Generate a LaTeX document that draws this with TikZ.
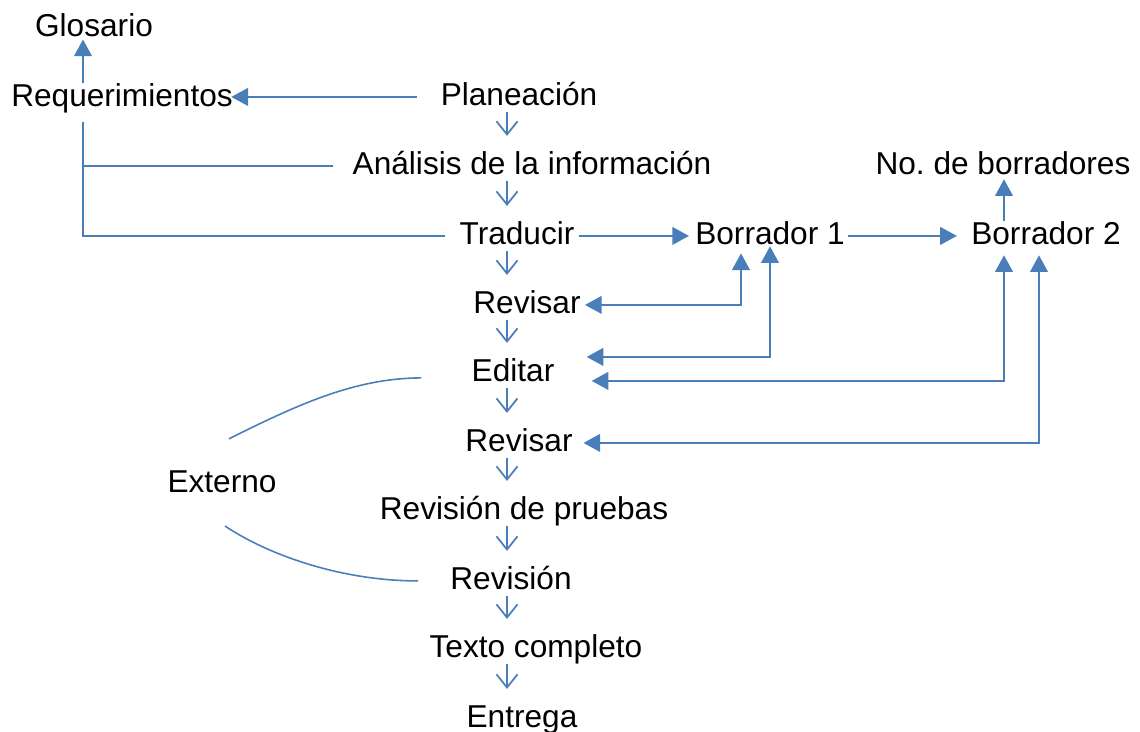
\documentclass[tikz,border=0pt]{standalone}
\usepackage{fontspec}
\setmainfont{Liberation Sans}
\usetikzlibrary{arrows.meta}
\definecolor{linkblue}{RGB}{74,126,187}

\begin{document}
\begin{tikzpicture}[x=0.02cm,y=-0.02cm,
    step node/.style={anchor=base,inner sep=0pt,text height=13pt,text depth=3.8pt,
                      font=\fontsize{18}{22}\selectfont},
    flow/.style={draw=linkblue,line width=1pt,-{Straight Barb[length=7.5pt,width=12pt]},shorten >=8.5pt},
    link/.style={draw=linkblue,line width=1.3pt,-{Triangle[length=9.5pt,width=10pt]}},
    twoway/.style={draw=linkblue,line width=1.3pt,{Triangle[length=9.5pt,width=10pt]}-{Triangle[length=9.5pt,width=10pt]}},
    rail/.style={draw=linkblue,line width=1.3pt},
    swoop/.style={draw=linkblue,line width=0.9pt}]

    \useasboundingbox (0,0) rectangle (1140,731);

    \node[step node] (Glos) at (94,36) {Glosario};
    \node[step node] (Req) at (122,106) {Requerimientos};
    \node[step node] (Plan) at (519,105) {Planeación};
    \node[step node] (Anal) at (532,174) {Análisis de la información};
    \node[step node] (NoDe) at (1003,174) {No.\ de borradores};
    \node[step node] (Trad) at (517,244) {Traducir};
    \node[step node] (B1) at (770,244) {Borrador 1};
    \node[step node] (B2) at (1046,244) {Borrador 2};
    \node[step node] (RevA) at (527,313) {Revisar};
    \node[step node] (Edit) at (513,381) {Editar};
    \node[step node] (RevB) at (519,451) {Revisar};
    \node[step node] (Ext) at (222,492) {Externo};
    \node[step node] (Prueba) at (524,519) {Revisión de pruebas};
    \node[step node] (Revision) at (511,589) {Revisión};
    \node[step node] (Texto) at (536,657) {Texto completo};
    \node[step node] (Entrega) at (522,727) {Entrega};

    % columns of the vertical lines
    \coordinate (spine) at (507,0);
    \coordinate (reqcol) at (83,0);
    \coordinate (b1a) at (741,0);
    \coordinate (b1b) at (770,0);
    \coordinate (b2a) at (1004,0);
    \coordinate (b2b) at (1039,0);

    % main sequence
    \foreach \a/\b in {Plan/Anal,Anal/Trad,Trad/RevA,RevA/Edit,Edit/RevB,
                       RevB/Prueba,Prueba/Revision,Revision/Texto,Texto/Entrega}
        \draw[flow] (\a.south -| spine) -- (\b.north -| spine);

    \draw[link,shorten <=13.5pt,shorten >=-1pt] (Plan.west) -- (Req.east |- Plan.west);
    \draw[link,shorten >=-2pt] (Req.north -| reqcol) -- (Glos.south -| reqcol);
    \draw[rail,shorten <=5pt,shorten >=11pt] (Req.south -| reqcol) |- (Anal.west);
    \draw[rail,shorten <=5pt,shorten >=8pt] (Req.south -| reqcol) |- (Trad.west);

    \draw[link,shorten <=2.5pt,shorten >=3.4pt] (Trad.east) -- (B1.west);
    \draw[link,shorten <=1.5pt,shorten >=8pt] (B1.east) -- (B2.west);
    \draw[link,shorten >=-1pt] (B2.north -| b2a) -- (NoDe.south -| b2a);

    % drafts back to the review steps
    \draw[twoway,shorten <=2.3pt,shorten >=1.3pt] (RevA.east) -| (B1.south -| b1a);
    \draw[twoway,shorten >=-2.7pt] ([shift={(32,-16)}]Edit.east) -| (B1.south -| b1b);
    \draw[twoway,shorten >=2.4pt] ([shift={(37,8)}]Edit.east) -| (B2.south -| b2a);
    \draw[twoway,shorten <=6pt,shorten >=2.4pt] (RevB.east) -| (B2.south -| b2b);

    % external review
    \draw[swoop] ([shift={(7,-30)}]Ext.north) .. controls +(70,-35) and +(-65,0) .. ([shift={(-50,5)}]Edit.west);
    \draw[swoop] ([shift={(3,27)}]Ext.south) .. controls +(45,30) and +(-75,0) .. ([shift={(-32,0)}]Revision.west);

\end{tikzpicture}
\end{document}
